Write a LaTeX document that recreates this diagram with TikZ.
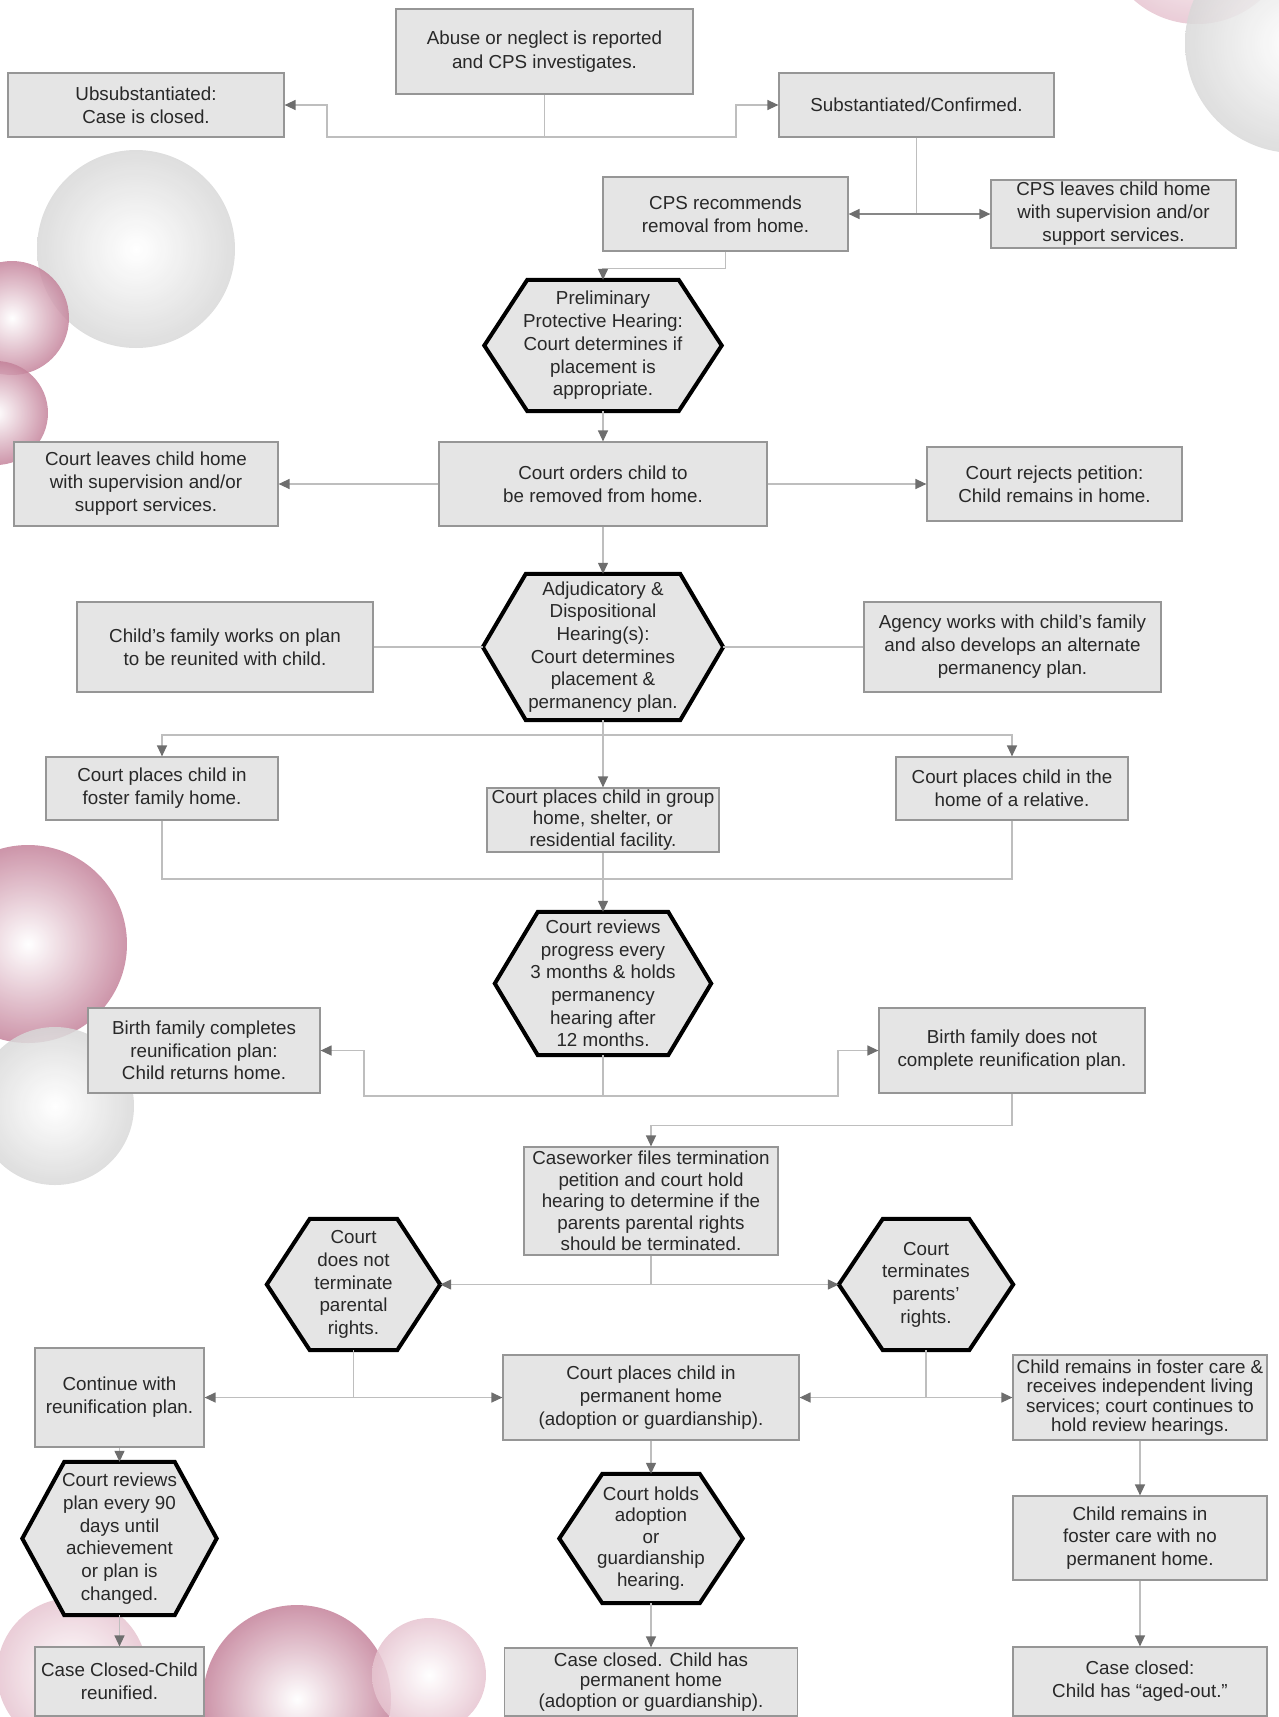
\documentclass[tikz,border=0pt]{standalone}
\usepackage{fontspec}
\setmainfont{Liberation Sans}
\usetikzlibrary{arrows.meta,calc}
\pgfdeclarelayer{deco}
\pgfdeclarelayer{back}
\pgfsetlayers{deco,back,main}
\definecolor{boxfill}{RGB}{229,229,229}
\definecolor{boxline}{RGB}{150,150,150}
\definecolor{linec}{RGB}{190,190,190}
\definecolor{linedark}{RGB}{135,135,135}
\definecolor{tipc}{RGB}{110,110,110}
\definecolor{txt}{RGB}{40,40,40}
\definecolor{rose}{RGB}{196,130,154}
\definecolor{rosel}{RGB}{230,196,208}
\definecolor{greyb}{RGB}{216,216,216}
\newcommand\hexagonof[2]{%
  \begin{pgfonlayer}{back}
  \draw[hexshape] (#1.west) -- ([xshift=#2]#1.north west) -- ([xshift=-#2]#1.north east)
    -- (#1.east) -- ([xshift=-#2]#1.south east) -- ([xshift=#2]#1.south west) -- cycle;
  \end{pgfonlayer}}
\begin{document}
\begin{tikzpicture}[x=1pt,y=-1pt,
  lead/.style={font=\fontsize{18.8}{#1}\selectfont},
  box/.style 2 args={draw=boxline, fill=boxfill, line width=1.2pt, align=center,
    inner sep=0pt, minimum width=#1pt, minimum height=#2pt, lead=23, text=txt},
  hexlab/.style 2 args={align=center, inner sep=0pt, minimum width=#1pt,
    minimum height=#2pt, lead=22.7, text=txt},
  hexshape/.style={draw=black, line width=4pt, fill=boxfill, line join=miter},
  conn/.style={draw=linec, line width=1.3pt},
  arr/.style={conn, -{Triangle[length=11pt,width=10pt,color=tipc]}},
  arrdark/.style={draw=linedark, line width=1.6pt, -{Triangle[length=11pt,width=10pt,color=tipc]}},
  ball/.style={shading=radial, inner color=white, opacity=0.85}
]
\path[use as bounding box] (0,0) rectangle (1278,1717);

% decorative circles
\begin{pgfonlayer}{deco}
\shade[ball, outer color=rosel] (1197,-71) circle (95);
\shade[ball, outer color=greyb] (1295,43) circle (110);
\shade[ball, outer color=greyb] (136,249) circle (99);
\shade[ball, outer color=rose] (12,318) circle (57);
\shade[ball, outer color=rose] (-4,413) circle (52);
\shade[ball, outer color=rose] (28,944) circle (99);
\shade[ball, outer color=greyb] (55,1106) circle (79);
\shade[ball, outer color=rosel] (72,1673) circle (75);
\shade[ball, outer color=rose] (297,1699) circle (94);
\shade[ball, outer color=rosel] (429,1675) circle (57);
\end{pgfonlayer}

% nodes
\node[box={297}{85}, lead=24] (abuse) at (544.5,51.5) {Abuse or neglect is reported\\and CPS investigates.};
\node[box={276}{64}] (unsub) at (146,105) {Ubsubstantiated:\\Case is closed.};
\node[box={275}{64}] (subst) at (916.5,105) {Substantiated/Confirmed.};
\node[box={245}{74}] (cpsrec) at (725.5,214) {CPS recommends\\removal from home.};
\node[box={245}{68}] (cpsleave) at (1113.5,214) {CPS leaves child home\\with supervision and/or\\support services.};
\node[hexlab={237}{131}] (prelim) at (603,345.5) {Preliminary\\Protective Hearing:\\Court determines if\\placement is\\appropriate.};
\hexagonof{prelim}{43pt}
\node[box={264}{84}] (courtleave) at (146,484) {Court leaves child home\\with supervision and/or\\support services.};
\node[box={328}{84}] (courtorders) at (603,484) {Court orders child to\\be removed from home.};
\node[box={255}{74}] (courtrejects) at (1054.5,484) {Court rejects petition:\\Child remains in home.};
\node[hexlab={240}{146}] (adjud) at (603,647) {Adjudicatory \&\\Dispositional\\Hearing(s):\\Court determines\\placement \&\\permanency plan.};
\hexagonof{adjud}{43pt}
\node[box={296}{90}] (childfam) at (225,647) {Child’s family works on plan\\to be reunited with child.};
\node[box={297}{90}] (agency) at (1012.5,647) {Agency works with child’s family\\and also develops an alternate\\permanency plan.};
\node[box={232}{63}] (foster) at (162,788.5) {Court places child in\\foster family home.};
\node[box={232}{64}, lead=21.4] (group) at (603,820) {Court places child in group\\home, shelter, or\\residential facility.};
\node[box={232}{63}] (relative) at (1012,788.5) {Court places child in the\\home of a relative.};
\node[hexlab={216}{143}] (reviews) at (603,983.5) {Court reviews\\progress every\\3 months \& holds\\permanency\\hearing after\\12 months.};
\hexagonof{reviews}{43pt}
\node[box={232}{85}, lead=22.5] (birthcomp) at (204,1050.5) {Birth family completes\\reunification plan:\\Child returns home.};
\node[box={266}{85}] (birthnot) at (1012,1050.5) {Birth family does not\\complete reunification plan.};
\node[box={254}{108}, lead=21.4] (caseworker) at (651,1201) {Caseworker files termination\\petition and court hold\\hearing to determine if the\\parents parental rights\\should be terminated.};
\node[hexlab={173}{131}] (notterm) at (353.5,1284.5) {Court\\does not\\terminate\\parental\\rights.};
\hexagonof{notterm}{43pt}
\node[hexlab={174}{131}] (term) at (926,1284.5) {Court\\terminates\\parents’\\rights.};
\hexagonof{term}{44pt}
\node[box={169}{99}] (continue) at (119.5,1397.5) {Continue with\\reunification plan.};
\node[box={296}{85}] (permhome) at (651,1397.5) {Court places child in\\permanent home\\(adoption or guardianship).};
\node[box={254}{85}, lead=19.4] (fostercare) at (1140,1397.5) {Child remains in foster care \&\\receives independent living\\services; court continues to\\hold review hearings.};
\node[hexlab={194}{153}] (reviewplan) at (119.5,1538.5) {Court reviews\\plan every 90\\days until\\achievement\\or plan is\\changed.};
\hexagonof{reviewplan}{42pt}
\node[hexlab={183}{129}, lead=21.4] (holds) at (651,1538.5) {Court holds\\adoption\\or\\guardianship\\hearing.};
\hexagonof{holds}{43pt}
\node[box={254}{84}, lead=22.5] (noperm) at (1140,1538) {Child remains in\\foster care with no\\permanent home.};
\node[box={169}{69}] (ccchild) at (119.5,1681.5) {Case Closed-Child\\reunified.};
\node[box={293}{68}, lead=20.8] (ccperm) at (651,1682) {Case closed. Child has\\permanent home\\(adoption or guardianship).};
\node[box={254}{69}] (agedout) at (1140,1681.5) {Case closed:\\Child has “aged-out.”};

% bend coordinates
\coordinate (a1) at (327,137);
\coordinate (a2) at (736,137);
\coordinate (d0) at (603,735);
\coordinate (e0) at (603,879);
\coordinate (f1) at (364,1096);
\coordinate (f2) at (838,1096);

% connectors
\draw[arr] (abuse.south) |- (a1) |- (unsub.east);
\draw[arr] (abuse.south) |- (a2) |- (subst.west);
\draw[conn] (subst.south) -- (subst.south |- cpsrec.east);
\draw[arrdark] (subst.south |- cpsrec.east) -- (cpsrec.east);
\draw[arrdark] (subst.south |- cpsrec.east) -- (cpsleave.west);
\draw[arr] (cpsrec.south) -- ++(0,17) -| (prelim.north);
\draw[arr] (prelim.south) -- (courtorders.north);
\draw[arr] (courtorders.west) -- (courtleave.east);
\draw[arr] (courtorders.east) -- (courtrejects.west);
\draw[arr] (courtorders.south) -- (adjud.north);
\draw[conn] (adjud.west) -- (childfam.east);
\draw[conn] (adjud.east) -- (agency.west);
\draw[conn] (adjud.south) -- (d0);
\draw[arr] (d0) -| (foster.north);
\draw[arr] (d0) -| (relative.north);
\draw[arr] (d0) -- (group.north);
\draw[conn] (foster.south) |- (e0);
\draw[conn] (relative.south) |- (e0);
\draw[arr] (group.south) -- (reviews.north);
\draw[arr] (reviews.south) |- (f1) |- (birthcomp.east);
\draw[arr] (reviews.south) |- (f2) |- (birthnot.west);
\draw[arr] (birthnot.south) -- ++(0,32) -| (caseworker.north);
\draw[arr] (caseworker.south) |- (notterm.east);
\draw[arr] (caseworker.south) |- (term.west);
\draw[arr] (notterm.south) |- (continue.east);
\draw[arr] (notterm.south) |- (permhome.west);
\draw[arr] (term.south) |- (permhome.east);
\draw[arr] (term.south) |- (fostercare.west);
\draw[arr] (continue.south) -- (reviewplan.north);
\draw[arr] (reviewplan.south) -- (ccchild.north);
\draw[arr] (permhome.south) -- (holds.north);
\draw[arr] (holds.south) -- (ccperm.north);
\draw[arr] (fostercare.south) -- (noperm.north);
\draw[arr] (noperm.south) -- (agedout.north);
\end{tikzpicture}
\end{document}
